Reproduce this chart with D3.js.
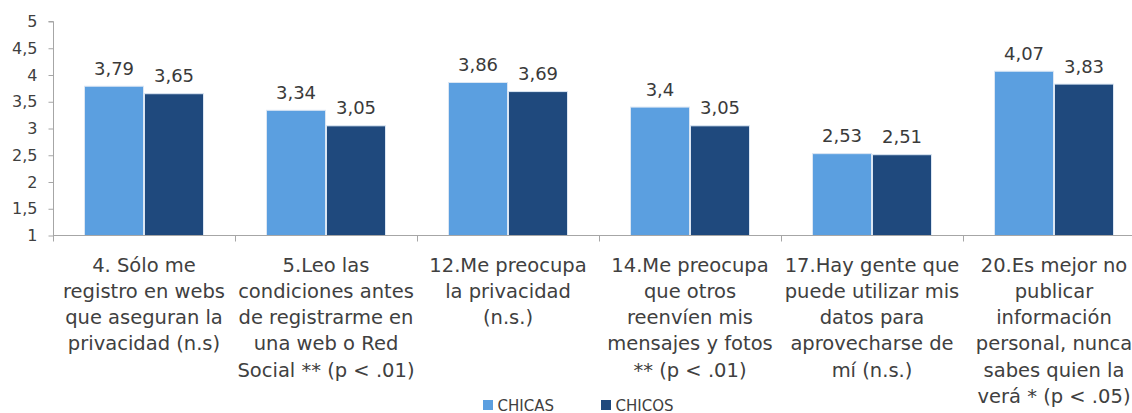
<!DOCTYPE html>
<html>
<head>
<meta charset="utf-8">
<script src="https://cdn.jsdelivr.net/npm/d3@7/dist/d3.min.js"></script>
<style>
  html, body { margin: 0; padding: 0; background: #ffffff; }
  svg { display: block; }
  text { font-family: "DejaVu Sans", Verdana, sans-serif; }
</style>
</head>
<body>
<svg id="chart" width="1132" height="413"></svg>
<script>
// ---- data ----
const categories = ["c4", "c5", "c12", "c14", "c17", "c20"];
const categoryLabels = [
  ["4. Sólo me", "registro en webs", "que aseguran la", "privacidad (n.s)"],
  ["5.Leo las", "condiciones antes", "de registrarme en", "una web o Red", "Social ** (p < .01)"],
  ["12.Me preocupa", "la privacidad", "(n.s.)"],
  ["14.Me preocupa", "que otros", "reenvíen mis", "mensajes y fotos", "** (p < .01)"],
  ["17.Hay gente que", "puede utilizar mis", "datos para", "aprovecharse de", "mí (n.s.)"],
  ["20.Es mejor no", "publicar", "información", "personal, nunca", "sabes quien la", "verá * (p < .05)"]
];
const seriesNames = ["CHICAS", "CHICOS"];
const chicas = [3.79, 3.34, 3.86, 3.4, 2.53, 4.07];
const chicos = [3.65, 3.05, 3.69, 3.05, 2.51, 3.83];
const yTicks = [1, 1.5, 2, 2.5, 3, 3.5, 4, 4.5, 5];
const colors = ["#5b9fe0", "#1f497d"];

// ---- layout ----
const svg = d3.select("#chart");
const x0 = 53, catW = 182;
const yTop = 21.5, yBase = 235.5;

const x = d3.scaleBand().domain(categories).range([x0, x0 + catW * categories.length]).padding(0);
const xs = d3.scaleBand().domain(seriesNames).range([31, 151]).padding(0);
const y = d3.scaleLinear().domain([1, 5]).range([yBase, yTop]);

const fmt = v => String(v).replace(".", ",");
const values = [chicas, chicos];

// y axis
const yAxis = d3.axisLeft(y).tickValues(yTicks).tickSize(5).tickPadding(11)
  .tickFormat(d => fmt(d));
const gy = svg.append("g").attr("transform", `translate(${x0 + 0.5},0)`).call(yAxis);
gy.select(".domain").attr("stroke", "#a6a6a6").attr("d", `M-5,${yTop}H0V${yBase}`);
gy.selectAll(".tick line").attr("stroke", "#a6a6a6");
gy.selectAll(".tick text").attr("fill", "#404040").style("font-size", "16px")
  .style("font-family", "'DejaVu Sans', Verdana, sans-serif");

// bars
categories.forEach((c, i) => {
  const g = svg.append("g").attr("transform", `translate(${x(c)},0)`);
  seriesNames.forEach((s, j) => {
    const v = values[j][i];
    g.append("rect")
      .attr("x", xs(s) + 0.5)
      .attr("y", y(v))
      .attr("width", xs.bandwidth() - 1)
      .attr("height", y(1) - y(v))
      .attr("fill", colors[j])
      .attr("stroke", "#dbe6f3")
      .attr("stroke-width", 1);
    g.append("text")
      .attr("x", xs(s) + xs.bandwidth() / 2)
      .attr("y", y(v) - 11.5)
      .attr("text-anchor", "middle")
      .attr("fill", "#3a3a3a")
      .style("font-size", "18px")
      .text(fmt(v));
  });
});

// x axis baseline and ticks
const gx = svg.append("g");
gx.append("line").attr("x1", x0).attr("x2", 1132).attr("y1", yBase).attr("y2", yBase)
  .attr("stroke", "#a6a6a6");
categories.forEach(c => {
  const xx = Math.round(x(c)) + 0.5;
  gx.append("line").attr("x1", xx).attr("x2", xx).attr("y1", yBase).attr("y2", yBase + 6)
    .attr("stroke", "#a6a6a6");
});

// category labels
categories.forEach((c, i) => {
  const t = svg.append("text")
    .attr("text-anchor", "middle")
    .attr("fill", "#404040")
    .style("font-size", "19.5px");
  categoryLabels[i].forEach((line, k) => {
    t.append("tspan")
      .attr("x", x(c) + x.bandwidth() / 2)
      .attr("y", 271.5 + k * 26.3)
      .text(line);
  });
});

// legend
const legendX = [483, 601];
seriesNames.forEach((s, j) => {
  svg.append("rect").attr("x", legendX[j]).attr("y", 400).attr("width", 10).attr("height", 10)
    .attr("fill", colors[j]);
  svg.append("text").attr("x", legendX[j] + 14.5).attr("y", 410.5)
    .attr("fill", "#404040").style("font-size", "15px").text(s);
});
</script>
</body>
</html>
